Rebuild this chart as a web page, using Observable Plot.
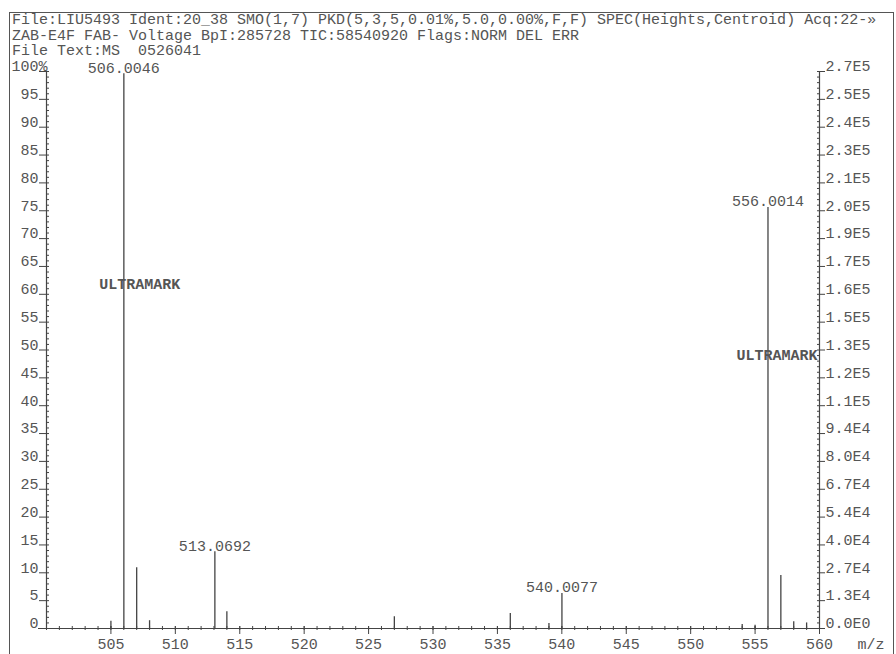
<!DOCTYPE html>
<html><head><meta charset="utf-8">
<script src="https://cdn.jsdelivr.net/npm/d3@7"></script>
<script src="https://cdn.jsdelivr.net/npm/@observablehq/plot@0.6"></script>
<style>
body{margin:0;background:#fff;}
#wrap{position:relative;width:896px;height:654px;overflow:hidden;background:#fff;}
#chart{position:absolute;left:0;top:0;}
#frame{position:absolute;left:9px;top:12px;width:885px;height:700px;border:1.5px solid #555;box-sizing:border-box;}
#hdr{position:absolute;left:12px;top:13px;margin:0;font:15px/15.5px "Liberation Mono",monospace;color:#555;white-space:pre;}
</style></head><body>
<div id="wrap"><div id="chart"></div><div id="frame"></div><pre id="hdr"></pre></div>
<script>
// ---- data ----
const headerLines = [
  "File:LIU5493 Ident:20_38 SMO(1,7) PKD(5,3,5,0.01%,5.0,0.00%,F,F) SPEC(Heights,Centroid) Acq:22-»",
  "ZAB-E4F FAB- Voltage BpI:285728 TIC:58540920 Flags:NORM DEL ERR",
  "File Text:MS  0526041"
];
const peakMz        = [505, 506.0046, 507, 508, 513.0692, 514, 527, 536, 539, 540.0077, 554, 555, 556.0014, 557, 558, 559];
const peakIntensity = [1.3, 99.6, 10.9, 1.4, 13.8, 3.0, 2.1, 2.7, 0.9, 6.3, 0.7, 0.6, 75.6, 9.5, 1.2, 1.0];
const peakLabels    = ["", "506.0046", "", "", "513.0692", "", "", "", "", "540.0077", "", "", "556.0014", "", "", ""];
const refMz    = [506.0046, 556.0014];
const refText  = ["ULTRAMARK", "ULTRAMARK"];
const refLevel = [61.9, 49.0];
const yMajor = d3.range(0, 101, 5);
const yMinor = d3.range(0, 101, 1);
const leftTickLabels  = ["0","5","10","15","20","25","30","35","40","45","50","55","60","65","70","75","80","85","90","95","100%"];
const rightTickLabels = ["0.0E0","1.3E4","2.7E4","4.0E4","5.4E4","6.7E4","8.0E4","9.4E4","1.1E5","1.2E5","1.3E5","1.5E5","1.6E5","1.7E5","1.9E5","2.0E5","2.1E5","2.3E5","2.4E5","2.5E5","2.7E5"];
const xMajor = d3.range(505, 561, 5);
const xMinor = d3.range(500, 561, 1);
const xLabel = "m/z";

document.getElementById("hdr").textContent = headerLines.join("\n");

const peaks = peakMz.map((m, i) => ({mz: m, intensity: peakIntensity[i], label: peakLabels[i]}));
const labelled = peaks.filter(d => d.label);
const ink = "#444";

const chart = Plot.plot({
  width: 896, height: 654,
  marginTop: 71, marginBottom: 26, marginLeft: 46, marginRight: 77,
  style: {fontFamily: "'Liberation Mono', monospace", fontSize: "15px", color: "#555", background: "transparent"},
  x: {domain: [500, 560], label: null},
  y: {domain: [0, 100], label: null},
  marks: [
    // left axis
    Plot.ruleX([500], {stroke: ink, strokeWidth: 1.2}),
    Plot.axisY({ticks: yMinor, tickSize: 3, dx: 3, fill: "none", label: null, stroke: ink}),
    Plot.axisY({ticks: yMajor, tickSize: 7, fill: "none", label: null, stroke: ink}),
    Plot.axisY({ticks: yMajor.slice(0, -1), tickSize: 0, tickPadding: 8, dy: -5, label: null,
      tickFormat: d => leftTickLabels[d / 5]}),
    Plot.axisY({ticks: [100], tickSize: 0, tickPadding: -1, dy: -5, label: null,
      tickFormat: d => leftTickLabels[d / 5]}),
    // right axis
    Plot.ruleX([560], {stroke: ink, strokeWidth: 1.2}),
    Plot.axisY({anchor: "right", ticks: yMinor, tickSize: 3, dx: -3, fill: "none", label: null, stroke: ink}),
    Plot.axisY({anchor: "right", ticks: yMajor, tickSize: 5, fill: "none", label: null, stroke: ink}),
    Plot.axisY({anchor: "right", ticks: yMajor, tickSize: 0, tickPadding: 6, dy: -5, label: null,
      tickFormat: d => rightTickLabels[d / 5]}),
    // bottom axis
    Plot.ruleY([0], {stroke: ink, strokeWidth: 1.2, insetLeft: -8}),
    Plot.axisX({ticks: xMinor, tickSize: 4, dy: -2, fill: "none", label: null, stroke: ink}),
    Plot.axisX({ticks: xMajor, tickSize: 8, dy: -2, fill: "none", label: null, stroke: ink}),
    Plot.axisX({ticks: xMajor, tickSize: 0, tickPadding: 10, label: null, tickFormat: d => String(d)}),
    Plot.text([xLabel], {frameAnchor: "bottom-right", text: d => d, textAnchor: "start", lineAnchor: "middle", dx: 38, dy: 16}),
    // peaks
    Plot.ruleX(peaks, {x: "mz", y1: 0, y2: "intensity", stroke: ink, strokeWidth: 1.3}),
    Plot.text(labelled, {x: "mz", y: "intensity", text: "label", lineAnchor: "bottom", dy: -1, fill: "#555"}),
    // reference-compound annotations
    Plot.text([0], {x: refMz[0], y: refLevel[0], text: [refText[0]], dx: 16, fontWeight: "bold", fill: "#555", fontSize: 15}),
    Plot.text([0], {x: refMz[1], y: refLevel[1], text: [refText[1]], dx: 9, fontWeight: "bold", fill: "#555", fontSize: 15})
  ]
});
document.getElementById("chart").appendChild(chart);
</script>
</body></html>
